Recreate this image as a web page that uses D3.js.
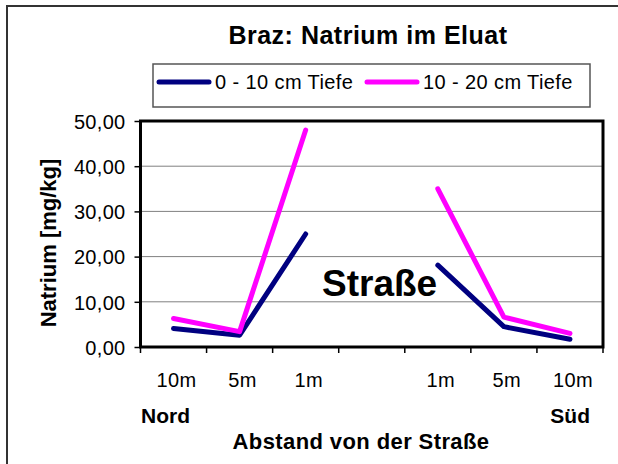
<!DOCTYPE html>
<html>
<head>
<meta charset="utf-8">
<script src="https://cdn.jsdelivr.net/npm/d3@7"></script>
<style>
  body { margin: 0; background: #fff; }
  text { font-family: "Liberation Sans", Arial, sans-serif; fill: #000; }
</style>
</head>
<body>
<svg id="chart" width="618" height="464"></svg>
<script>
// Data
const categories = ["10m", "5m", "1m", "", "1m", "5m", "10m"];
const depth0to10 = [4.1, 2.6, 25.0, null, 18.1, 4.5, 1.7];
const depth10to20 = [6.3, 3.4, 48.0, null, 35.0, 6.6, 3.0];
const seriesNames = ["0 - 10 cm Tiefe", "10 - 20 cm Tiefe"];
const seriesColors = ["#000080", "#ff00ff"];
const yTicks = [0, 10, 20, 30, 40, 50];

const svg = d3.select('#chart');

// Outer chart border (only left/top visible in the crop)
svg.append('rect')
  .attr('x', 7).attr('y', 6).attr('width', 640).attr('height', 500)
  .attr('fill', 'none').attr('stroke', '#333').attr('stroke-width', 2);

// Title
svg.append('text')
  .attr('x', 368).attr('y', 44)
  .attr('text-anchor', 'middle')
  .style('font-size', '25px').style('font-weight', 'bold').style('letter-spacing', '0.5px')
  .text('Braz: Natrium im Eluat');

// Scales
const plot = { left: 140.5, right: 603, top: 121, bottom: 347 };
const x = d3.scaleBand().domain(d3.range(categories.length)).range([plot.left, plot.right]).padding(0);
const y = d3.scaleLinear().domain([0, 50]).range([plot.bottom, plot.top]);
const cx = i => x(i) + x.bandwidth() / 2;

// Gridlines
svg.append('g').selectAll('line').data(yTicks.filter(t => t > 0 && t < 50)).enter()
  .append('line')
  .attr('x1', plot.left).attr('x2', plot.right)
  .attr('y1', d => y(d)).attr('y2', d => y(d))
  .attr('stroke', '#808080').attr('stroke-width', 1);

// Y axis
const yAxis = svg.append('g')
  .attr('transform', `translate(${plot.left},0)`)
  .call(d3.axisLeft(y).tickValues(yTicks).tickSize(6).tickPadding(9)
    .tickFormat(d => d3.format('.2f')(d).replace('.', ',')));
yAxis.select('.domain').remove();
yAxis.selectAll('line').attr('stroke', '#000').attr('stroke-width', 1.5);
yAxis.selectAll('text').style('font-size', '20px').style('letter-spacing', '0.3px')
  .attr('font-family', null).attr('dy', '0.36em');

// X axis ticks at band edges
const edges = d3.range(categories.length + 1).map(i => plot.left + i * x.bandwidth());
svg.append('g').selectAll('line').data(edges).enter()
  .append('line')
  .attr('x1', d => d).attr('x2', d => d)
  .attr('y1', plot.bottom).attr('y2', plot.bottom + 6)
  .attr('stroke', '#000').attr('stroke-width', 1.5);

svg.append('g').selectAll('text').data(categories).enter()
  .append('text')
  .attr('x', (d, i) => cx(i) + 3).attr('y', 387)
  .attr('text-anchor', 'middle')
  .style('font-size', '20px').style('letter-spacing', '0.4px')
  .text(d => d);

// Plot border
svg.append('rect')
  .attr('x', plot.left).attr('y', plot.top)
  .attr('width', plot.right - plot.left).attr('height', plot.bottom - plot.top)
  .attr('fill', 'none').attr('stroke', '#000').attr('stroke-width', 3);

// Lines
const line = d3.line()
  .defined(d => d != null)
  .x((d, i) => cx(i))
  .y(d => y(d));

[depth0to10, depth10to20].forEach((vals, k) => {
  svg.append('path')
    .datum(vals)
    .attr('d', line)
    .attr('fill', 'none')
    .attr('stroke', seriesColors[k])
    .attr('stroke-width', 5)
    .attr('stroke-linejoin', 'round')
    .attr('stroke-linecap', 'round');
});

// Road label
svg.append('text')
  .attr('x', 322).attr('y', 296)
  .style('font-size', '37px').style('font-weight', 'bold')
  .text('Straße');

// Axis titles
svg.append('text')
  .attr('transform', 'translate(56,243) rotate(-90)')
  .attr('text-anchor', 'middle')
  .style('font-size', '22px').style('font-weight', 'bold')
  .text('Natrium [mg/kg]');

svg.append('text')
  .attr('x', 141).attr('y', 423)
  .style('font-size', '21px').style('font-weight', 'bold')
  .text('Nord');
svg.append('text')
  .attr('x', 590).attr('y', 423)
  .attr('text-anchor', 'end')
  .style('font-size', '21px').style('font-weight', 'bold')
  .text('Süd');

svg.append('text')
  .attr('x', 361).attr('y', 449)
  .attr('text-anchor', 'middle')
  .style('font-size', '22px').style('font-weight', 'bold').style('letter-spacing', '0.4px')
  .text('Abstand von der Straße');

// Legend
const legend = svg.append('g');
legend.append('rect')
  .attr('x', 153).attr('y', 64).attr('width', 437).attr('height', 43)
  .attr('fill', '#fff').attr('stroke', '#555').attr('stroke-width', 1.5);
const legendX = [159, 367];
seriesNames.forEach((name, k) => {
  legend.append('line')
    .attr('x1', legendX[k]).attr('x2', legendX[k] + 50)
    .attr('y1', 82).attr('y2', 82)
    .attr('stroke', seriesColors[k]).attr('stroke-width', 5)
    .attr('stroke-linecap', 'round');
  legend.append('text')
    .attr('x', legendX[k] + 56).attr('y', 89)
    .style('font-size', '20px').style('letter-spacing', '0.4px')
    .text(name);
});
</script>
</body>
</html>
